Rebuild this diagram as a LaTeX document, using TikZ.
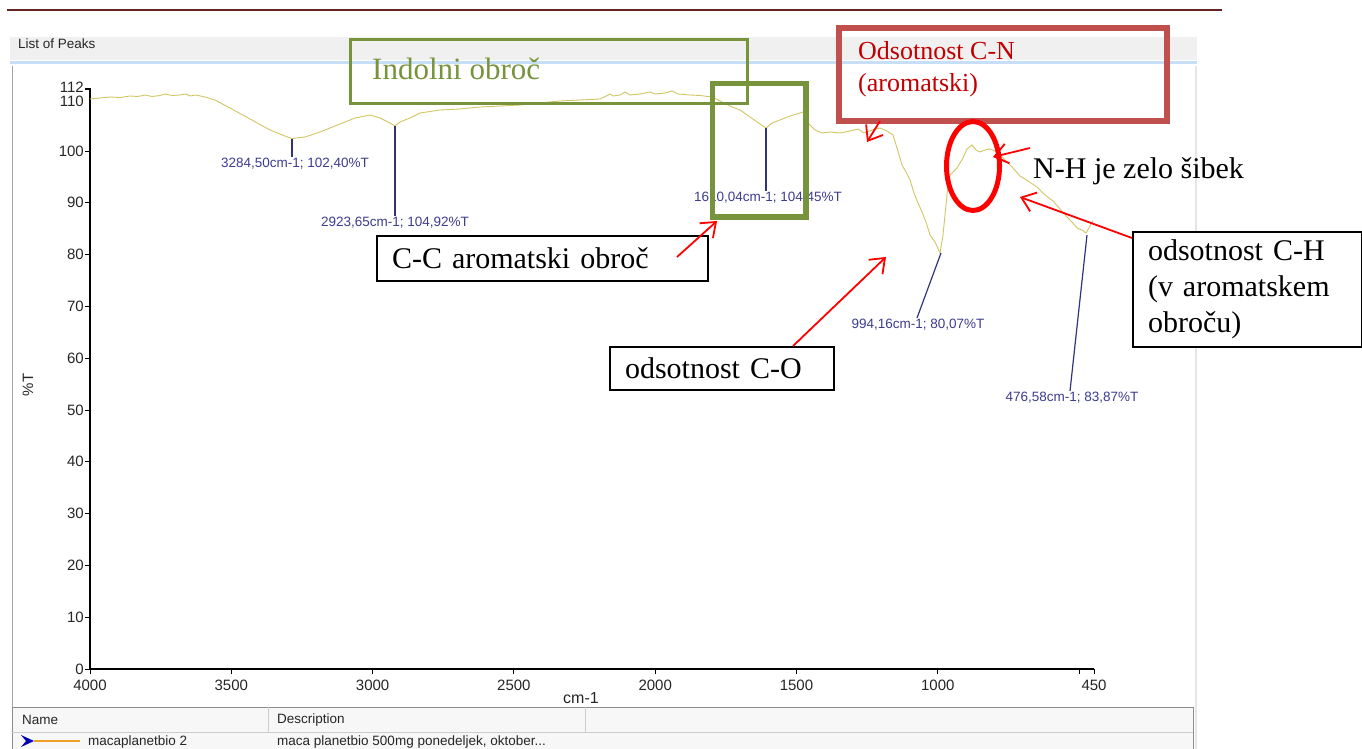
\documentclass[tikz,border=0pt]{standalone}
\usepackage{fontspec}
\setmainfont{Liberation Serif}
\setsansfont{Liberation Sans}
\usetikzlibrary{arrows.meta,shapes.geometric}
\definecolor{trace}{RGB}{210,198,100}
\definecolor{peakblue}{RGB}{60,60,145}
\definecolor{olive}{RGB}{119,147,60}
\definecolor{boxred}{RGB}{192,80,77}
\definecolor{cnred}{RGB}{192,0,0}
\definecolor{darkline}{RGB}{99,36,35}
\definecolor{hdrgray}{RGB}{240,240,240}
\definecolor{hdrblue}{RGB}{198,222,246}
\definecolor{roworange}{RGB}{240,160,40}
\tikzset{
  peakline/.style={draw=peakblue!85!black, line width=1.2pt},
  peaktext/.style={font=\sffamily\fontsize{13.5}{14}\selectfont, text=peakblue, inner sep=1pt},
  axislabel/.style={font=\sffamily\fontsize{15}{16}\selectfont, text=black!85, inner sep=1pt},
  uitext/.style={font=\sffamily\fontsize{13.5}{14}\selectfont, text=black!85, inner sep=0pt},
  notebox/.style={draw, line width=2pt, fill=white, font=\fontsize{30}{36}\selectfont,
    align=left, inner xsep=15pt, inner ysep=0pt, anchor=north west},
  redarrow/.style={draw=red, line width=1.8pt, -{Straight Barb[length=13pt,width=20pt]}},
}
\def\peakmark(#1,#2,#3,#4,#5,#6,#7){
  \coordinate (#1) at (#2,#3);
  \coordinate (#1foot) at (#4,#5);
  \node[peaktext, anchor=north] (#1txt) at (#6,#5) {#7};
  \draw[peakline] (#1) -- (#1foot);
}
\begin{document}
\begin{tikzpicture}[x=1pt,y=-1pt]
\useasboundingbox (0,0) rectangle (1362,749);
\fill[white] (0,0) rectangle (1362,749);
\draw[darkline, line width=2pt] (7,10) -- (1222,10);
\fill[hdrgray] (10,37) rectangle (1197,60);
\draw[hdrblue, line width=3pt] (10,62.5) -- (1197,62.5);
\draw[black!35] (12,66) -- (12,749);
\draw[black!10, line width=1.5pt] (1196,66) -- (1196,749);
\node[uitext, anchor=west] (listhdr) at (18,44) {List of Peaks};
\draw[line width=1.3pt] (85,89) -- (90,89) -- (90,669) -- (1094,669);
\foreach \v in {0,10,...,100}
  \draw[line width=1pt] (85,{669-5.18*\v}) -- (90,{669-5.18*\v});
\foreach \v in {0,10,...,100}
  \node[axislabel, anchor=east] (yl\v) at (85,{669-5.18*\v}) {\v};
\node[axislabel, anchor=east] (yl112) at (85,87) {112};
\node[axislabel, anchor=east] (yl110) at (85,101.5) {110};
\node[axislabel, rotate=90] (ytitle) at (28,385) {\%T};
\foreach \w in {4000,3500,...,500}
  \draw[line width=1pt] ({90+(4000-\w)*0.2826},669) -- ({90+(4000-\w)*0.2826},674);
\draw[line width=1pt] (1094,669) -- (1094,674);
\foreach \w in {4000,3500,...,1000}
  \node[axislabel] (xl\w) at ({90+(4000-\w)*0.2826},685) {\w};
\node[axislabel] (xl450) at (1094,685) {450};
\node[axislabel, font=\sffamily\fontsize{16}{17}\selectfont] (xtitle) at (581,698) {cm-1};
\draw[trace, line width=0.9pt] plot coordinates {
  (90,99) (100,98) (110,97) (120,97.5) (130,96) (138,96.5) (145,95) (152,96.5)
  (160,95.5) (165,94) (172,95.5) (180,95) (186,94) (190,96) (196,95) (205,97)
  (215,100) (230,108) (250,119) (270,130) (285,136) (292,138.5) (305,137)
  (320,132) (340,124) (355,118) (370,115) (380,118) (390,123) (395,126)
  (400,122) (410,118) (420,113) (440,110) (460,109) (480,107) (500,106)
  (520,105) (540,103) (560,101) (580,100) (600,99) (610,94) (613,96) (620,95)
  (625,92) (630,95) (640,94) (650,92) (655,94) (665,93) (672,91) (678,94)
  (690,95) (700,95.5) (712,97) (720,101) (730,106) (740,110) (750,117)
  (760,124) (766,128) (772,123) (780,120) (790,116) (800,113) (803,112)
  (807,122) (815,130) (822,133) (830,132) (840,133) (850,131) (858,129)
  (864,133) (872,130) (880,128) (887,131) (893,135) (897,148) (902,165)
  (906,172) (910,180) (914,193) (918,203) (922,212) (926,222) (930,235)
  (935,242) (940,253) (943,235) (946,205) (948,185) (950,175) (953,172)
  (957,168) (960,163) (963,158) (967,149) (972,145) (976,150) (980,152)
  (985,150) (990,149) (995,151) (1000,155) (1005,160) (1012,167) (1020,176)
  (1028,181) (1037,187) (1045,195) (1053,201) (1060,209) (1067,217)
  (1072,222) (1077,228) (1082,230) (1086,233) (1090,226) (1093,221)};
\peakmark(pkA,292,139,292,157,295,3284,50cm-1; 102,40\%T)
\peakmark(pkB,395,126,395,216,395,2923,65cm-1; 104,92\%T)
\peakmark(pkC,766,128,766,191,768,1610,04cm-1; 104,45\%T)
\peakmark(pkD,941,253,917,318,918,994,16cm-1; 80,07\%T)
\peakmark(pkE,1087,235,1070,391,1072,476,58cm-1; 83,87\%T)
\draw[olive, line width=3pt] (350,40) rectangle (747,104);
\node[text=olive, anchor=base west, inner sep=0pt, font=\fontsize{31}{36}\selectfont]
  (indol) at (372,80) {Indolni obroč};
\draw[olive, line width=5.5pt] (712.5,83.5) rectangle (806,217);
\node[draw=boxred, line width=6pt, minimum width=328pt, minimum height=93pt,
  anchor=north west, inner sep=0pt] (cnbox) at (836,25) {};
\node[text=cnred, anchor=base west, inner sep=0pt, font=\fontsize{26}{32}\selectfont]
  (cnA) at (858,60) {Odsotnost C-N};
\node[text=cnred, anchor=base west, inner sep=0pt, font=\fontsize{26}{32}\selectfont]
  (cnB) at (858,92) {(aromatski)};
\node[draw=red, line width=5pt, ellipse, minimum width=53pt, minimum height=89pt,
  inner sep=0pt] (nhring) at (973,166) {};
\node[anchor=base west, inner sep=0pt, font=\fontsize{30}{36}\selectfont]
  (nhtext) at (1033,178) {N-H je zelo šibek};
\node[notebox, minimum width=331pt, minimum height=45pt, text width=301pt]
  (ccbox) at (376,235) {C-C aromatski obroč};
\node[notebox, minimum width=224pt, minimum height=43pt, text width=194pt]
  (cobox) at (609,346) {odsotnost C-O};
\node[notebox, minimum width=229pt, minimum height=115pt, text width=199pt]
  (chbox) at (1132,231) {odsotnost C-H\\(v aromatskem\\obroču)};
\coordinate (ccTail) at (677,257);
\coordinate (ccHead) at (717,221);
\coordinate (coHead) at (886,257);
\coordinate (cnHead) at (867,142);
\coordinate (nhTail) at (1030,148);
\coordinate (nhHead) at (993,157);
\coordinate (chHead) at (1020,197);
\draw[redarrow] (ccTail) -- (ccHead);
\draw[redarrow] ([xshift=71pt]cobox.north) -- (coHead);
\draw[redarrow] ([xshift=-123pt,yshift=3pt]cnbox.south) -- (cnHead);
\draw[redarrow] (nhTail) -- (nhHead);
\draw[redarrow] ([yshift=-7pt]chbox.north west) -- (chHead);
\draw[black!45, fill=black!3] (12,749) -- (12,707) -- (1193,707) -- (1193,749);
\draw[black!20] (12,732) -- (1193,732);
\draw[black!20] (268,707) -- (268,732);
\draw[black!20] (585,707) -- (585,732);
\node[uitext, anchor=west] (namehdr) at (22,720) {Name};
\node[uitext, anchor=west] (deschdr) at (277,720) {Description};
\fill[blue!70!black] (21,735) -- (34,741) -- (21,747) -- (26,741) -- cycle;
\draw[roworange, line width=2pt] (34,741) -- (80,741);
\node[uitext, anchor=west] (rowname) at (88,742) {macaplanetbio 2};
\node[uitext, anchor=west] (rowdesc) at (277,742) {maca planetbio 500mg ponedeljek, oktober...};
\end{tikzpicture}
\end{document}
